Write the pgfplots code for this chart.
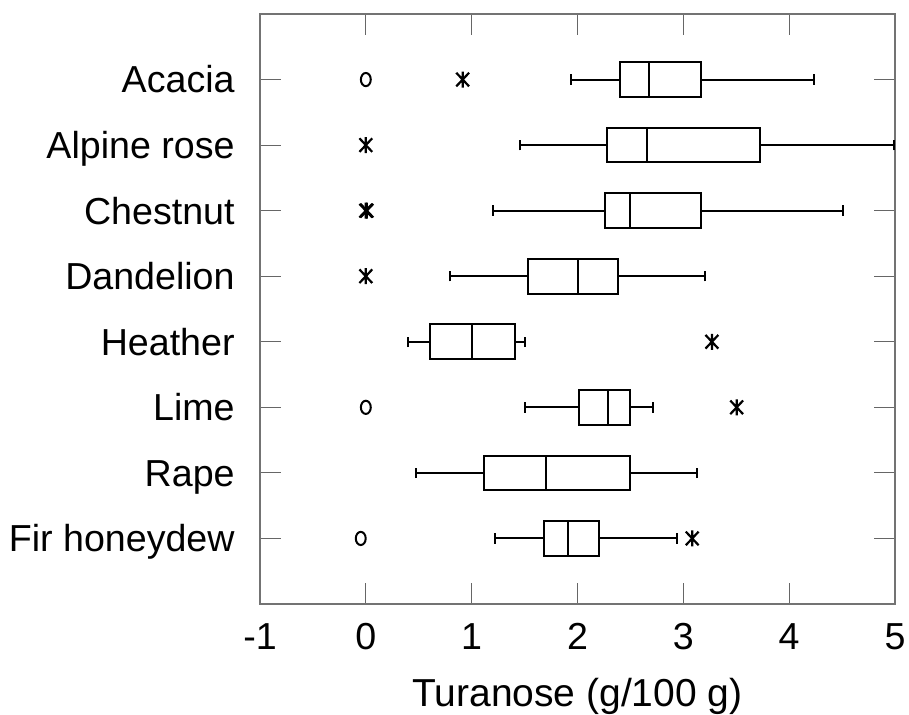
\documentclass[border=0pt]{standalone}
\usepackage{fontspec}
\setmainfont{Liberation Sans}
\usepackage{pgfplots}
\pgfplotsset{compat=1.18}
\usepgfplotslibrary{statistics}
\usetikzlibrary{calc}

% SPSS-style extreme value mark: an X with a vertical bar through it
\pgfdeclareplotmark{xbar}{%
  \pgfpathmoveto{\pgfqpoint{0pt}{-\pgfplotmarksize}}%
  \pgfpathlineto{\pgfqpoint{0pt}{\pgfplotmarksize}}%
  \pgfpathmoveto{\pgfqpoint{-.8\pgfplotmarksize}{-.85\pgfplotmarksize}}%
  \pgfpathlineto{\pgfqpoint{.8\pgfplotmarksize}{.85\pgfplotmarksize}}%
  \pgfpathmoveto{\pgfqpoint{-.8\pgfplotmarksize}{.85\pgfplotmarksize}}%
  \pgfpathlineto{\pgfqpoint{.8\pgfplotmarksize}{-.85\pgfplotmarksize}}%
  \pgfusepathqstroke}

\pgfplotsset{
  hbox/.style={black, line width=1pt, solid, mark=none,
    boxplot prepared={#1, box extend=0.53, whisker extend=0.16}},
  circ/.style={only marks, black, mark=o, mark size=3.3pt,
    mark options={xscale=0.75, line width=1pt, solid}},
  ast/.style={only marks, black, mark=xbar, mark size=4pt,
    mark options={line width=1.1pt, solid}},
}

\begin{document}
\begin{tikzpicture}
\begin{axis}[
    scale only axis,
    width=317.5pt, height=295pt,
    xmin=-1, xmax=5, ymin=0, ymax=9,
    xtick={-1,0,1,2,3,4,5},
    xticklabels={-1,0,1,2,3,4,5},
    ytick={1,2,3,4,5,6,7,8},
    yticklabels={Fir honeydew,Rape,Lime,Heather,Dandelion,Chestnut,Alpine rose,Acacia},
    tick align=inside,
    xtick pos=both, ytick pos=both,
    tick style={black!60, line width=0.6pt},
    major tick length=10.5pt,
    axis line style={black!55, line width=0.6pt},
    tick label style={font=\fontsize{18.8pt}{22pt}\selectfont},
    label style={font=\fontsize{19.5pt}{23pt}\selectfont},
    xticklabel style={anchor=base, inner sep=0pt, yshift=-23pt},
    yticklabel style={anchor=base east, inner sep=0pt, xshift=-12.5pt, yshift=-6.7pt},
    xlabel={Turanose (g/100 g)},
    xlabel style={at={(axis description cs:0.5,0)}, anchor=base, inner sep=0pt, yshift=-51.5pt},
    clip=false,
]
% Acacia
\addplot[hbox={draw position=8, lower whisker=1.934, lower quartile=2.406, median=2.672, upper quartile=3.163, upper whisker=4.234}] coordinates {};
\addplot[circ] coordinates {(0,8)};
\addplot[ast] coordinates {(0.915,8)};
% Alpine rose
\addplot[hbox={draw position=7, lower whisker=1.458, lower quartile=2.283, median=2.656, upper quartile=3.722, upper whisker=4.99}] coordinates {};
\addplot[ast] coordinates {(0,7)};
% Chestnut
\addplot[hbox={draw position=6, lower whisker=1.197, lower quartile=2.259, median=2.497, upper quartile=3.163, upper whisker=4.504}] coordinates {};
\addplot[ast] coordinates {(0,6) (0.01,6)};
% Dandelion
\addplot[hbox={draw position=5, lower whisker=0.796, lower quartile=1.534, median=2.006, upper quartile=2.378, upper whisker=3.203}] coordinates {};
\addplot[ast] coordinates {(0,5)};
% Heather
\addplot[hbox={draw position=4, lower whisker=0.400, lower quartile=0.606, median=1.002, upper quartile=1.407, upper whisker=1.506}] coordinates {};
\addplot[ast] coordinates {(3.270,4)};
% Lime
\addplot[hbox={draw position=3, lower whisker=1.506, lower quartile=2.017, median=2.287, upper quartile=2.497, upper whisker=2.715}] coordinates {};
\addplot[circ] coordinates {(0,3)};
\addplot[ast] coordinates {(3.504,3)};
% Rape
\addplot[hbox={draw position=2, lower whisker=0.475, lower quartile=1.121, median=1.700, upper quartile=2.497, upper whisker=3.132}] coordinates {};
% Fir honeydew
\addplot[hbox={draw position=1, lower whisker=1.224, lower quartile=1.680, median=1.906, upper quartile=2.200, upper whisker=2.937}] coordinates {};
\addplot[circ] coordinates {(-0.048,1)};
\addplot[ast] coordinates {(3.084,1)};
\end{axis}
\pgfresetboundingbox
\path[use as bounding box] ($(current axis.south west)+(-130pt,-55.5pt)$) rectangle ($(current axis.north east)+(7pt,7pt)$);
\end{tikzpicture}
\end{document}
